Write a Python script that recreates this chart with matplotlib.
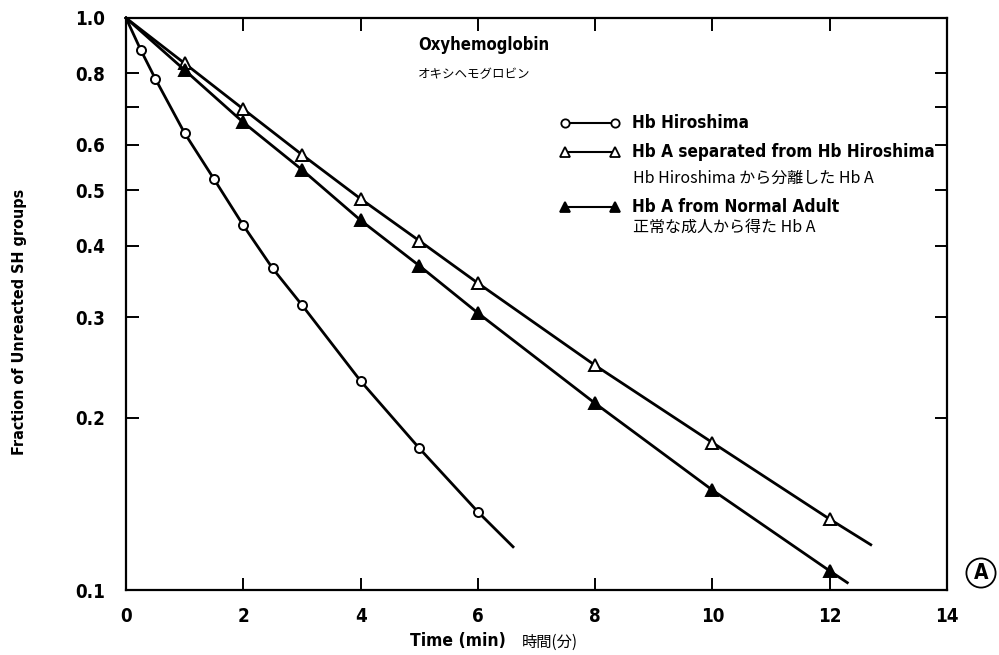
import matplotlib
matplotlib.use("Agg")
import matplotlib.pyplot as plt
from matplotlib import font_manager as fm
from matplotlib.lines import Line2D
from matplotlib.ticker import NullLocator, FixedLocator

# reaction time (min) and fraction of unreacted SH groups
time_hiro = [0.25, 0.5, 1, 1.5, 2, 2.5, 3, 4, 5, 6]
frac_hiro = [0.880, 0.783, 0.629, 0.523, 0.434, 0.365, 0.315, 0.232, 0.177, 0.137]

time_sep = [1, 2, 3, 4, 5, 6, 8, 10, 12]
frac_sep = [0.833, 0.693, 0.577, 0.483, 0.408, 0.344, 0.247, 0.181, 0.133]

time_norm = [1, 2, 3, 4, 5, 6, 8, 10, 12]
frac_norm = [0.811, 0.657, 0.543, 0.443, 0.369, 0.305, 0.212, 0.1495, 0.108]

# every line starts at (0, 1.0) and runs a little past its last point
start_t, start_frac = 0, 1.0
end_t = [6.6, 12.7, 12.3]
end_frac = [0.119, 0.120, 0.103]

xticks = [0, 2, 4, 6, 8, 10, 12, 14]
yticks = [0.1, 0.2, 0.3, 0.4, 0.5, 0.6, 0.7, 0.8, 1.0]
ylabels = ["0.1", "0.2", "0.3", "0.4", "0.5", "0.6", "", "0.8", "1.0"]


# narrow bold face for the labels, if one is installed
def narrow_bold():
    files = [f.fname for f in fm.fontManager.ttflist]
    for key in ("LiberationSansNarrow-Bold.", "DejaVuSansCondensed-Bold.",
                "RobotoCondensed-Bold", "OpenSans_Condensed-Bold",
                "OpenSansCondensed-Bold"):
        for fn in files:
            if key in fn:
                return fm.FontProperties(fname=fn), True
    return fm.FontProperties(family="Roboto", weight="bold"), False


bold_fp, narrow = narrow_bold()
k = 1.0 if narrow else 0.9


def bf(size):
    fp = bold_fp.copy()
    fp.set_size(size * k)
    return fp


JP = ["Noto Sans CJK JP", "DejaVu Sans"]

W, H = 999, 655
fig = plt.figure(figsize=(W / 100, H / 100), dpi=100)
ax = fig.add_axes([126 / W, 1 - 590 / H, 821 / W, 572 / H])

series = [
    (time_hiro, frac_hiro, "o", "white", 6.5),
    (time_sep, frac_sep, "^", "white", 8),
    (time_norm, frac_norm, "^", "black", 8),
]
for i, (t, f, m, fc, ms) in enumerate(series):
    tt = [start_t] + t + [end_t[i]]
    ff = [start_frac] + f + [end_frac[i]]
    ax.plot(tt, ff, color="black", lw=2.0, marker=m, ms=ms, mfc=fc,
            mec="black", mew=1.4, markevery=list(range(1, len(tt) - 1)),
            clip_on=False, zorder=3)

ax.set_yscale("log")
ax.set_xlim(0, 14)
ax.set_ylim(0.1, 1.0)
ax.yaxis.set_major_locator(FixedLocator(yticks))
ax.yaxis.set_minor_locator(NullLocator())
ax.set_yticklabels(ylabels)
ax.set_xticks(xticks)
ax.set_xticklabels([str(x) for x in xticks])

for s in ax.spines.values():
    s.set_linewidth(1.6)
ax.tick_params(which="both", direction="in", top=True, right=True,
               length=9, width=1.4)
ax.tick_params(axis="y", pad=15)
ax.tick_params(axis="x", pad=12)
for lab in ax.get_xticklabels() + ax.get_yticklabels():
    lab.set_fontproperties(bf(13.5))

# axis titles
fig.text(20 / W, 1 - 322 / H, "Fraction of Unreacted SH groups", rotation=90,
         ha="center", va="center", fontproperties=bf(11.5))
fig.text(458 / W, 1 - 641 / H, "Time (min)", ha="center", va="center",
         fontproperties=bf(12.5))
fig.text(522 / W, 1 - 642 / H, "時間(分)", ha="left", va="center",
         family=JP, fontsize=11)

# panel title
fig.text(418 / W, 1 - 45 / H, "Oxyhemoglobin", ha="left", va="center",
         fontproperties=bf(12))
fig.text(418 / W, 1 - 75 / H, "オキシヘモグロビン", ha="left", va="center",
         family=JP, fontsize=9)

# key
key = [
    (123, "o", "white", 6, "Hb Hiroshima", None, 0),
    (152, "^", "white", 7, "Hb A separated from Hb Hiroshima",
     "Hb Hiroshima から分離した Hb A", 178),
    (207, "^", "black", 7, "Hb A from Normal Adult",
     "正常な成人から得た Hb A", 227),
]
for y, m, fc, ms, label, sub, ys in key:
    fig.add_artist(Line2D([565 / W, 615 / W], [1 - y / H, 1 - y / H],
                          transform=fig.transFigure, color="black", lw=1.5,
                          marker=m, ms=ms, mfc=fc, mec="black", mew=1.3))
    fig.text(632 / W, 1 - y / H, label, ha="left", va="center",
             fontproperties=bf(12.3))
    if sub:
        fig.text(633 / W, 1 - ys / H, sub, ha="left", va="center",
                 family=JP, fontsize=11.5)

# panel letter
fig.text(981 / W, 1 - 573 / H, "A", ha="center", va="center",
         fontproperties=bf(15),
         bbox=dict(boxstyle="circle,pad=0.22", fc="white", ec="black", lw=1.3))

fig.savefig("out.png", dpi=100, facecolor="white")
